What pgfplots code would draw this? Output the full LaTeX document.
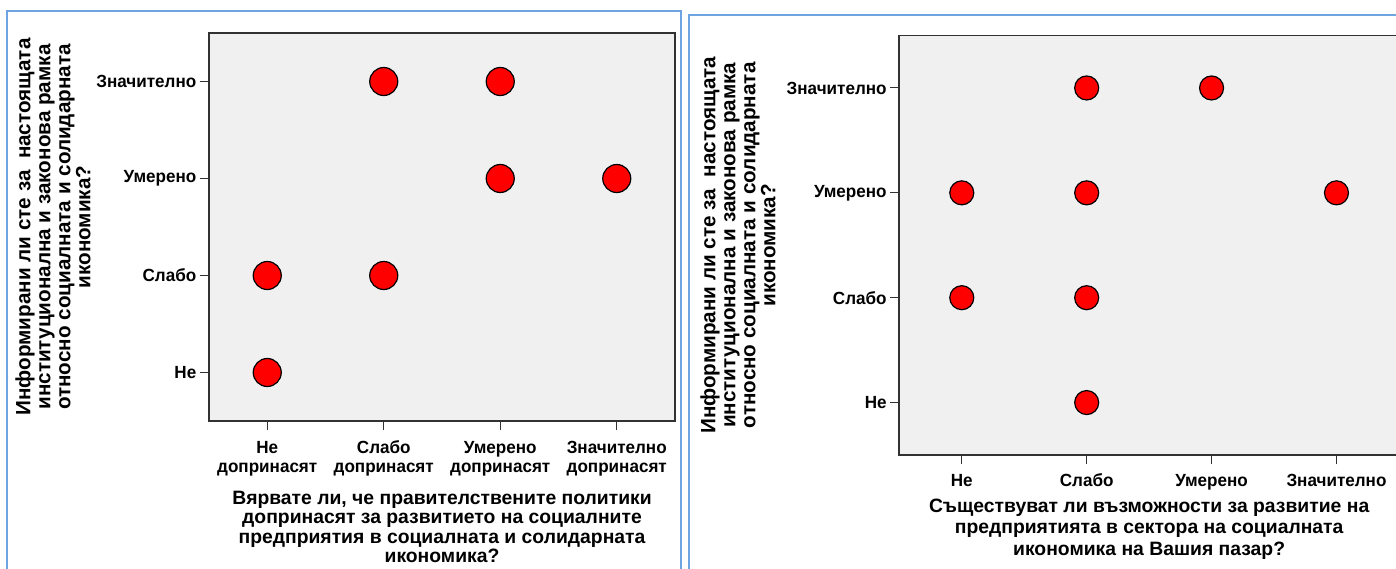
\documentclass[border=0pt]{standalone}
\usepackage{pgfplots}
\pgfplotsset{compat=1.18}
\usepackage{fontspec}
\setmainfont{Liberation Sans}
\newfontfamily\narrow[FakeStretch=0.97]{Liberation Sans}

\definecolor{panelbg}{RGB}{240,240,240}
\definecolor{frameblue}{RGB}{110,165,225}
\definecolor{axisgray}{RGB}{50,50,50}

\newcommand{\hs}{\rule{0pt}{11pt}}

\pgfplotsset{
  spssdots/.style={
    scale only axis,
    xmin=0.5, xmax=4.5, ymin=0.5, ymax=4.5,
    xtick={1,2,3,4}, ytick={1,2,3,4},
    xtick pos=bottom, ytick pos=left,
    yticklabels={Не,Слабо,Умерено,Значително},
    axis background/.style={fill=panelbg},
    axis line style={axisgray, line width=1.3pt},
    tick align=outside,
    major tick length=7pt,
    every tick/.style={axisgray, line width=0.8pt},
    tick label style={font=\narrow\bfseries\fontsize{13.2}{14}\selectfont, text=black},
    xticklabel style={align=center, yshift=-3pt},
    yticklabel style={xshift=1pt},
    label style={font=\bfseries\fontsize{14.5}{14.5}\selectfont, align=center},
    ylabel style={font=\bfseries\fontsize{15.5}{15}\selectfont},
    only marks,
  },
}

\begin{document}
\begin{tikzpicture}
\path[use as bounding box] (0,0) rectangle (1047pt,426pt);
\clip (0,0) rectangle (1047pt,426pt);

% panel frames
\draw[frameblue, line width=1.5pt] (5.6pt,-5pt) -- (5.6pt,418pt) -- (510.4pt,418pt) -- (510.4pt,-5pt);
\draw[frameblue, line width=1.5pt] (516.4pt,-5pt) -- (516.4pt,415pt) -- (1060pt,415pt);

% left chart
\begin{axis}[spssdots,
  at={(156.75pt,110.25pt)}, anchor=south west,
  width=349.5pt, height=291pt,
  xticklabels={{\hs Не\\допринасят},{\hs Слабо\\допринасят},{\hs Умерено\\допринасят},{\hs Значително\\допринасят}},
  xlabel={Вярвате ли, че правителствените политики\\допринасят за развитието на социалните\\предприятия в социалната и солидарната\\икономика?},
  ylabel={Информирани ли сте за~~настоящата\\институционална и законова рамка\\относно социалната и солидарната\\икономика?},
  xlabel style={at={([yshift=-79.5pt]rel axis cs:0.5,0)}, anchor=center},
  ylabel style={at={([xshift=-117pt]rel axis cs:0,0.5)}, anchor=center},
  ]
  \addplot[mark=*, mark size=10.5pt, mark options={fill=red, draw=black, line width=0.9pt}]
    coordinates {(1,1) (1,2) (2,2) (2,4) (3,4) (3,3) (4,3)};
\end{axis}

% right chart
\begin{axis}[spssdots,
  at={(674.5pt,84.75pt)}, anchor=south west,
  width=374.7pt, height=314.6pt,
  xticklabels={Не,Слабо,Умерено,Значително},
  xticklabel style={text height=10pt, text depth=3pt},
  xlabel={Съществуват ли възможности за развитие на\\предприятията в сектора на социалната\\икономика на Вашия пазар?},
  ylabel={Информирани ли сте за~~настоящата\\институционална и законова рамка\\относно социалната и солидарната\\икономика?},
  xlabel style={at={([yshift=-55.5pt]rel axis cs:0.5,0)}, anchor=center, font=\bfseries\fontsize{14.5}{16}\selectfont},
  ylabel style={at={([xshift=-121pt]rel axis cs:0,0.5)}, anchor=center},
  ]
  \addplot[mark=*, mark size=9pt, mark options={fill=red, draw=black, line width=0.9pt}]
    coordinates {(1,3) (1,2) (2,4) (2,3) (2,2) (2,1) (3,4) (4,3)};
\end{axis}
\end{tikzpicture}
\end{document}
